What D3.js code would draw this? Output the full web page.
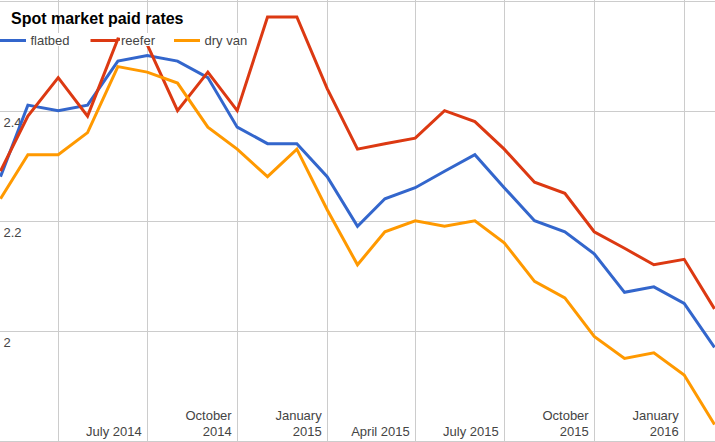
<!DOCTYPE html>
<html><head><meta charset="utf-8">
<script src="https://cdn.jsdelivr.net/npm/d3@7"></script>
<style>
body{margin:0;background:#fff}
svg{display:block}
text{font-family:"Liberation Sans",Arial,sans-serif}
</style>
</head><body><svg id="c" width="715" height="442"></svg>
<script>
const months = ["2014-02","2014-03","2014-04","2014-05","2014-06","2014-07","2014-08","2014-09","2014-10","2014-11","2014-12",
  "2015-01","2015-02","2015-03","2015-04","2015-05","2015-06","2015-07","2015-08","2015-09","2015-10","2015-11","2015-12",
  "2016-01","2016-02"];
const flatbed = [2.28,2.41,2.40,2.41,2.49,2.50,2.49,2.46,2.37,2.34,2.34,2.28,2.19,2.24,2.26,2.29,2.32,2.26,2.20,2.18,2.14,2.07,2.08,2.05,1.97];
const reefer  = [2.29,2.39,2.46,2.39,2.53,2.52,2.40,2.47,2.40,2.57,2.57,2.44,2.33,2.34,2.35,2.40,2.38,2.33,2.27,2.25,2.18,2.15,2.12,2.13,2.04];
const dryVan  = [2.24,2.32,2.32,2.36,2.48,2.47,2.45,2.37,2.33,2.28,2.33,2.22,2.12,2.18,2.20,2.19,2.20,2.16,2.09,2.06,1.99,1.95,1.96,1.92,1.83];
const seriesNames = ["flatbed","reefer","dry van"];
const seriesColors = ["#3366cc","#dc3912","#ff9900"];
const gridMonths = ["2014-04","2014-07","2014-10","2015-01","2015-04","2015-07","2015-10","2016-01"];
const tickLabels = [[],["July 2014"],["October","2014"],["January","2015"],["April 2015"],["July 2015"],["October","2015"],["January","2016"]];
const yGrid = [1.8,2.0,2.2,2.4,2.6];
const yLabels = [2.0,2.2,2.4];
const yLabelText = ["2","2.2","2.4"];
const title = "Spot market paid rates";

const W = 715, H = 442;
const legendX = [0, 90.5, 174];
const parse = d3.timeParse("%Y-%m");
const dates = months.map(parse);
const svg = d3.select("#c");

const x = d3.scaleTime().domain([dates[0], dates[dates.length-1]]).range([0.5, 714.5]);
const y = d3.scaleLinear().domain([1.8, 2.6]).range([441, 0.5]);

svg.append("g").selectAll("line").data(yGrid).join("line")
  .attr("x1", 0).attr("x2", W)
  .attr("y1", d => Math.round(y(d)) + 0.5).attr("y2", d => Math.round(y(d)) + 0.5)
  .attr("stroke", "#cccccc").attr("stroke-width", 1);

const gd = gridMonths.map(parse);
svg.append("g").selectAll("line").data(gd).join("line")
  .attr("x1", d => Math.round(x(d)) + 0.5).attr("x2", d => Math.round(x(d)) + 0.5)
  .attr("y1", 0).attr("y2", H)
  .attr("stroke", "#cccccc").attr("stroke-width", 1);

svg.append("g").selectAll("text").data(yLabels).join("text")
  .attr("x", 3.5).attr("y", d => y(d) + 16)
  .attr("font-size", 13).attr("fill", "#444")
  .text((d, i) => yLabelText[i]);

const xl = svg.append("g");
gd.forEach((d, i) => {
  const lines = tickLabels[i];
  const n = lines.length;
  lines.forEach((t, j) => {
    xl.append("text")
      .attr("x", x(d) - 5.5)
      .attr("y", 436 - (n - 1 - j) * 16.5)
      .attr("text-anchor", "end")
      .attr("font-size", 13).attr("fill", "#444")
      .text(t);
  });
});

const allSeries = [flatbed, reefer, dryVan];
const line = d3.line().x((d, i) => x(dates[i])).y(d => y(d));
allSeries.forEach((s, k) => {
  svg.append("path").datum(s)
    .attr("d", line)
    .attr("fill", "none")
    .attr("stroke", seriesColors[k])
    .attr("stroke-width", 3);
});

svg.append("text").attr("x", 11).attr("y", 24)
  .attr("font-size", 16).attr("font-weight", "bold").attr("fill", "#000")
  .text(title);

const lg = svg.append("g");
seriesNames.forEach((name, k) => {
  const lx = legendX[k];
  lg.append("line").attr("x1", lx).attr("x2", lx + 26)
    .attr("y1", 40.5).attr("y2", 40.5)
    .attr("stroke", seriesColors[k]).attr("stroke-width", 3);
  const bg = lg.append("rect").attr("fill", "#fff");
  const t = lg.append("text").attr("x", lx + 30.5).attr("y", 45)
    .attr("font-size", 13).attr("fill", "#444").text(name);
  const w = t.node().getComputedTextLength();
  bg.attr("x", lx + 29.5).attr("y", 33).attr("width", w + 2).attr("height", 13);
});
</script>
</body></html>
